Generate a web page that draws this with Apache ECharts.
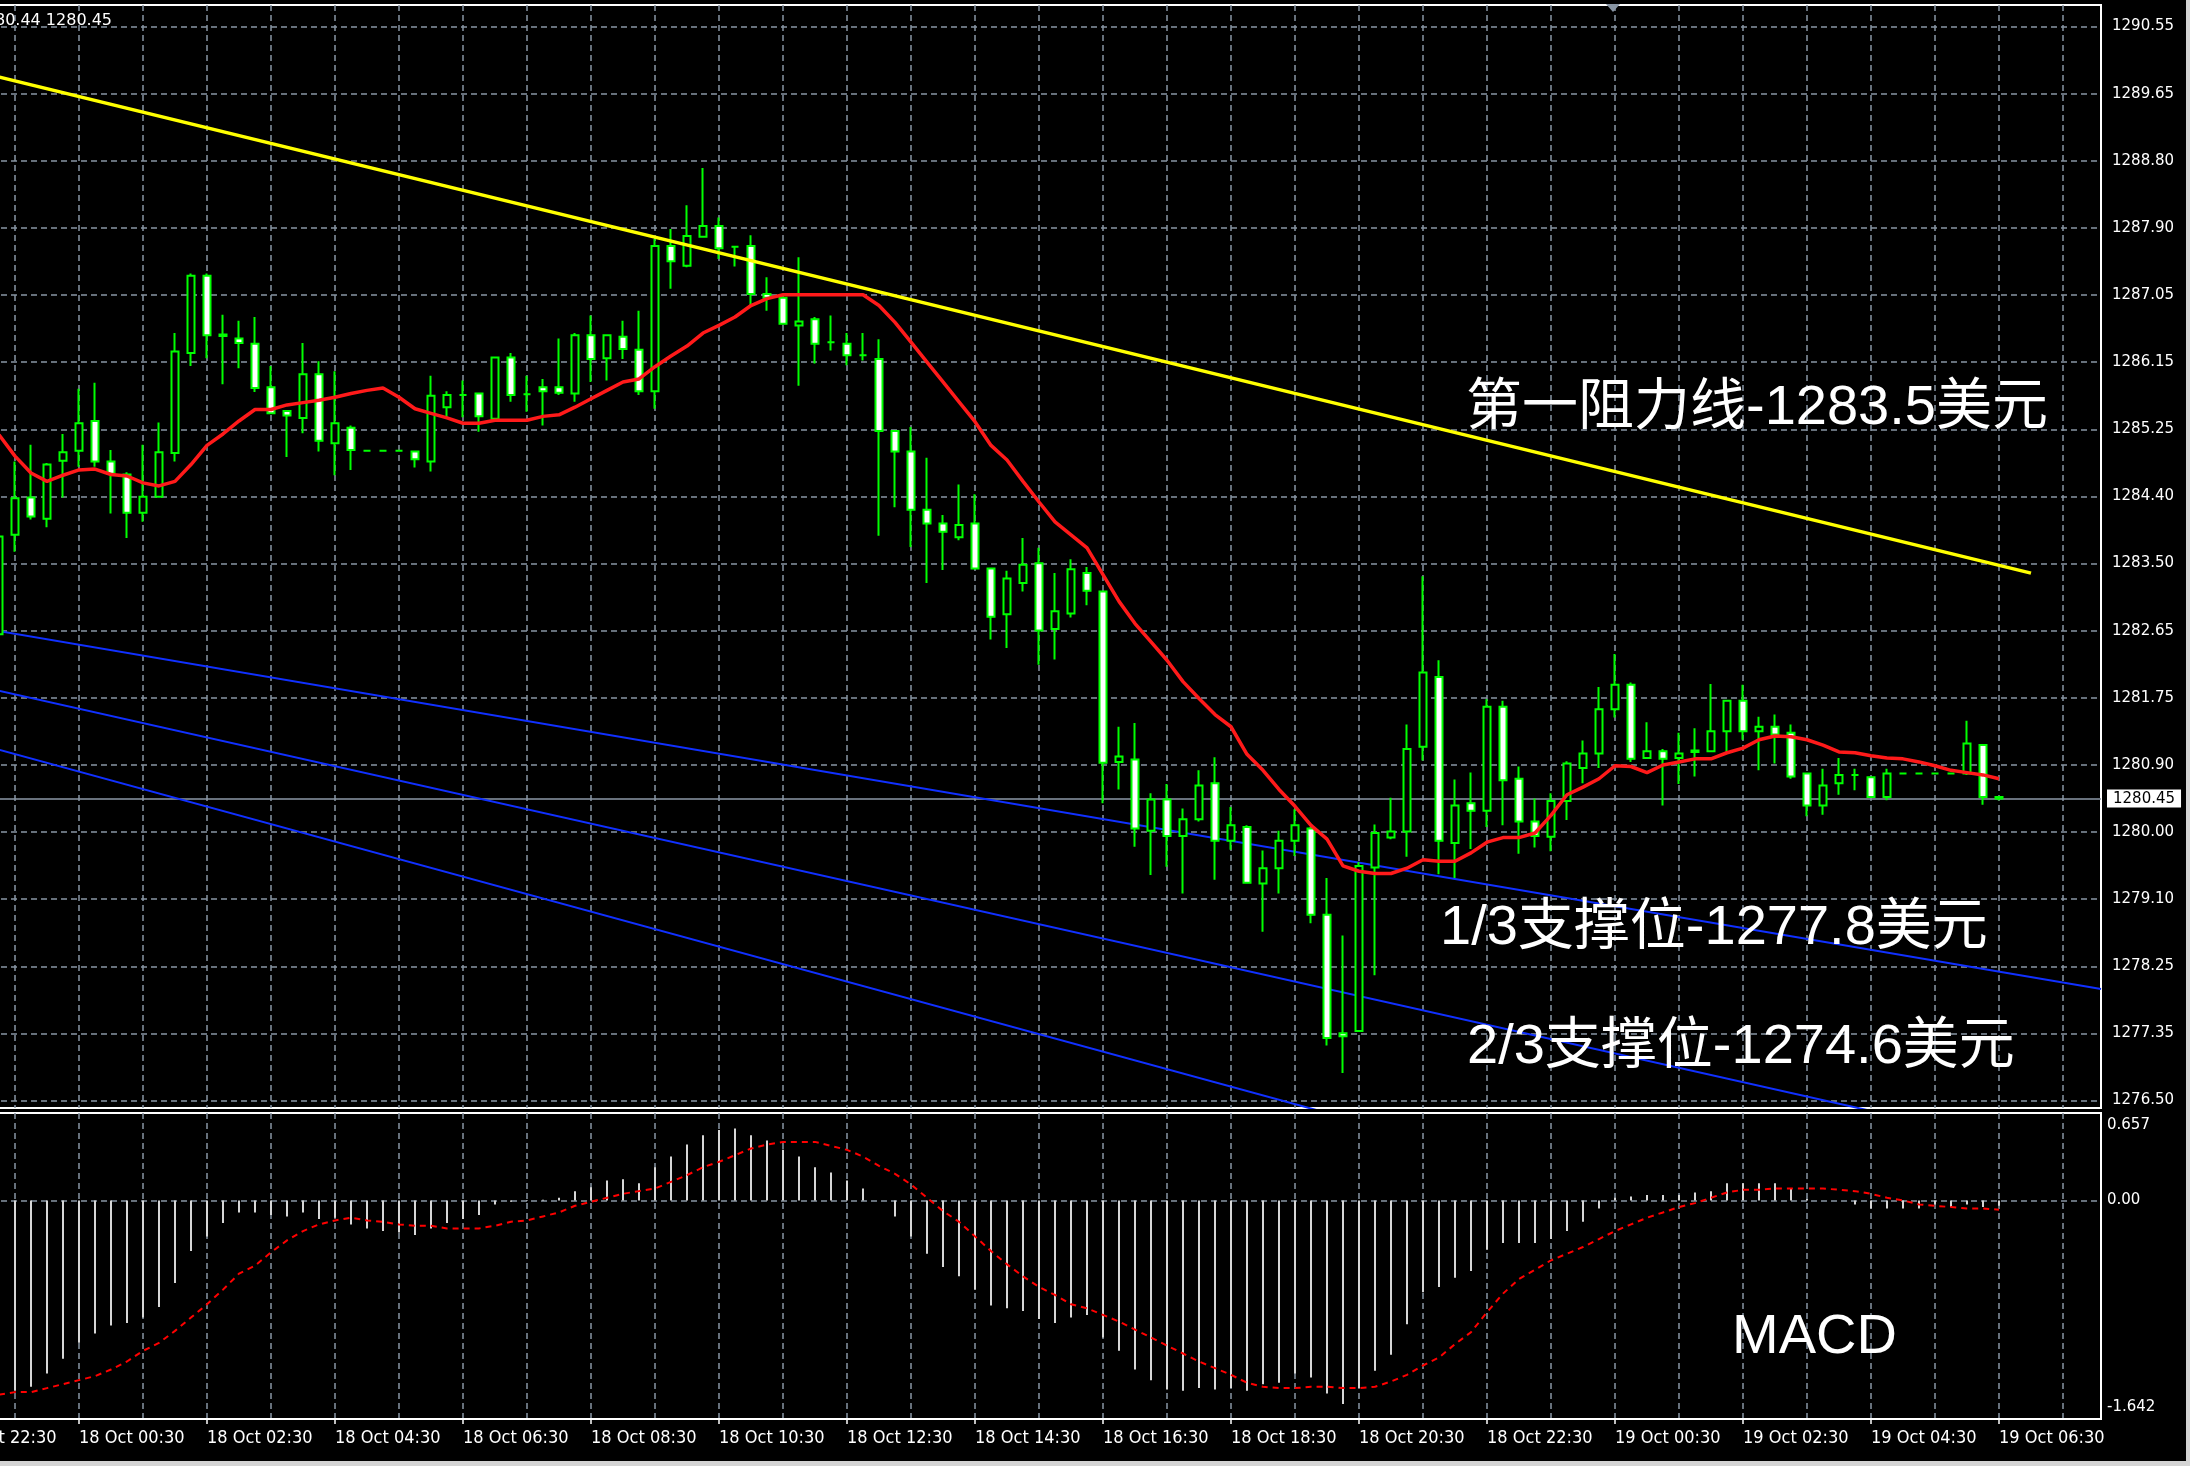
<!DOCTYPE html>
<html><head><meta charset="utf-8">
<script src="https://cdn.jsdelivr.net/npm/echarts@6/dist/echarts.min.js"></script>
<style>html,body{margin:0;padding:0;background:#000;overflow:hidden}#c{width:2190px;height:1466px}</style>
</head><body><div id="c"></div>
<script>
// ---------- tick labels ----------
const timeLabels = ['17 Oct 22:30','18 Oct 00:30','18 Oct 02:30','18 Oct 04:30','18 Oct 06:30','18 Oct 08:30','18 Oct 10:30','18 Oct 12:30','18 Oct 14:30','18 Oct 16:30','18 Oct 18:30','18 Oct 20:30','18 Oct 22:30','19 Oct 00:30','19 Oct 02:30','19 Oct 04:30','19 Oct 06:30'];
const priceLabels = ['1276.50','1277.35','1278.25','1279.10','1280.00','1280.90','1281.75','1282.65','1283.50','1284.40','1285.25','1286.15','1287.05','1287.90','1288.80','1289.65','1290.55'];
const macdAxisVals = [-1.642, 0, 0.657];
const macdAxisLabels = ['-1.642\n', '0.00', '\n0.657'];
const firstSlot = 3; // first candle = 17 Oct 23:15 (15-min slots from 17 Oct 22:30)

// ---------- candles (15 min) ----------
const opens = [
1282.60,1283.90,1284.39,1284.11,1284.87,1285.00,1285.39,1284.86,1284.69,1284.19,
1284.40,1284.97,1286.28,1287.29,1286.52,1286.47,1286.40,1285.83,1285.52,1285.43,
1286.00,1285.10,1285.30,1285.00,1285.00,1285.00,1284.99,1284.86,1285.57,1285.73,
1285.75,1285.42,1286.22,1285.74,1285.83,1285.83,1285.75,1286.51,1286.21,1286.49,
1286.32,1285.78,1287.68,1287.42,1287.80,1287.94,1287.67,1287.68,1287.05,1287.00,
1286.64,1286.72,1286.42,1286.40,1286.25,1286.20,1285.26,1284.99,1284.23,1284.05,
1283.87,1284.05,1283.46,1282.86,1283.27,1283.53,1282.67,1282.87,1283.40,1283.16,
1280.93,1280.96,1280.03,1280.44,1279.96,1280.18,1280.65,1279.90,1280.08,1279.34,
1279.54,1279.90,1280.06,1278.93,1277.38,1277.41,1279.55,1279.94,1280.02,1281.13,
1282.04,1279.87,1280.39,1280.29,1281.65,1280.71,1280.15,1279.95,1280.42,1280.85,
1281.04,1281.62,1281.94,1280.98,1281.07,1280.98,1281.06,1281.07,1281.33,1281.73,
1281.33,1281.39,1281.31,1280.78,1280.36,1280.65,1280.76,1280.73,1280.47,1280.78,
1280.78,1280.78,1280.78,1280.78,1281.15,1280.47];
const closes = [
1283.88,1284.38,1284.14,1284.82,1284.98,1285.36,1284.86,1284.70,1284.19,1284.40,
1284.98,1286.30,1287.29,1286.51,1286.50,1286.41,1285.82,1285.49,1285.46,1286.00,
1285.13,1285.36,1285.01,1285.00,1285.00,1285.00,1284.89,1285.72,1285.73,1285.73,
1285.45,1286.22,1285.73,1285.74,1285.78,1285.76,1286.51,1286.20,1286.51,1286.33,
1285.78,1287.68,1287.48,1287.81,1287.94,1287.65,1287.67,1287.05,1287.00,1286.66,
1286.69,1286.40,1286.42,1286.25,1286.25,1285.26,1284.99,1284.23,1284.05,1283.94,
1284.03,1283.46,1282.83,1283.33,1283.51,1282.65,1282.90,1283.45,1283.17,1280.92,
1281.00,1280.06,1280.44,1279.96,1280.18,1280.62,1279.90,1280.10,1279.35,1279.54,
1279.90,1280.10,1278.93,1277.32,1277.34,1279.57,1280.00,1280.02,1281.10,1282.10,
1279.90,1280.36,1280.29,1281.65,1280.69,1280.15,1279.96,1280.42,1280.91,1281.04,
1281.62,1281.94,1280.97,1281.07,1280.97,1281.04,1281.08,1281.33,1281.73,1281.33,
1281.39,1281.29,1280.74,1280.36,1280.62,1280.76,1280.76,1280.47,1280.78,1280.78,
1280.78,1280.78,1280.78,1281.17,1280.47,1280.45];
const lows = [
1282.30,1283.68,1284.10,1284.00,1284.39,1284.79,1284.79,1284.18,1283.86,1284.07,
1284.40,1284.86,1286.11,1286.21,1285.87,1286.08,1285.77,1285.48,1284.92,1285.23,
1284.99,1284.68,1284.75,1285.00,1285.00,1285.00,1284.78,1284.73,1285.44,1285.44,
1285.25,1285.40,1285.64,1285.51,1285.33,1285.73,1285.64,1285.90,1285.92,1286.20,
1285.73,1285.55,1287.12,1287.40,1287.80,1287.51,1287.41,1286.90,1286.83,1286.66,
1285.85,1286.14,1286.31,1286.12,1286.18,1283.89,1284.26,1283.74,1283.27,1283.44,
1283.83,1283.46,1282.53,1282.42,1283.16,1282.20,1282.27,1282.82,1282.98,1280.39,
1280.57,1279.82,1279.45,1279.56,1279.21,1280.15,1279.39,1279.78,1279.35,1278.71,
1279.21,1279.70,1278.82,1277.22,1276.86,1277.41,1278.14,1279.92,1279.69,1280.95,
1279.46,1279.41,1279.79,1280.08,1280.10,1279.73,1279.81,1279.76,1280.17,1280.65,
1280.85,1281.51,1280.93,1280.97,1280.36,1280.64,1280.74,1281.06,1281.06,1281.22,
1280.82,1280.91,1280.71,1280.22,1280.24,1280.50,1280.56,1280.46,1280.43,1280.78,
1280.78,1280.78,1280.78,1280.76,1280.37,1280.43];
const highs = [
1284.20,1284.86,1285.08,1284.84,1285.22,1285.81,1285.89,1285.01,1284.72,1285.08,
1285.37,1286.54,1287.32,1287.32,1286.78,1286.70,1286.75,1286.11,1285.53,1286.41,
1286.17,1286.04,1285.33,1285.00,1285.00,1285.00,1284.99,1285.98,1285.78,1285.92,
1285.75,1286.22,1286.28,1285.98,1285.94,1286.47,1286.54,1286.77,1286.51,1286.70,
1286.83,1287.77,1287.90,1288.21,1288.70,1288.05,1287.67,1287.82,1287.27,1287.05,
1287.53,1286.75,1286.77,1286.54,1286.54,1286.46,1285.26,1285.31,1284.91,1284.16,
1284.56,1284.43,1283.46,1283.43,1283.86,1283.73,1283.40,1283.58,1283.48,1283.16,
1281.39,1281.44,1280.52,1280.64,1280.32,1280.82,1280.99,1280.34,1280.10,1279.77,
1280.03,1280.31,1280.08,1279.41,1278.66,1279.62,1280.11,1280.46,1281.42,1283.36,
1282.26,1280.70,1280.79,1281.75,1281.73,1280.87,1280.45,1280.52,1280.94,1281.21,
1281.91,1282.34,1281.97,1281.45,1281.10,1281.31,1281.37,1281.95,1281.73,1281.94,
1281.52,1281.55,1281.42,1280.78,1280.84,1280.98,1280.84,1280.73,1280.84,1280.78,
1280.78,1280.78,1280.78,1281.47,1281.15,1280.48];

// ---------- moving average (red) ----------
const maValues = [
1285.21,1284.93,1284.71,1284.60,1284.68,1284.75,1284.76,1284.69,1284.67,1284.58,
1284.54,1284.60,1284.82,1285.07,1285.22,1285.39,1285.54,1285.54,1285.60,1285.63,
1285.66,1285.70,1285.75,1285.79,1285.82,1285.70,1285.55,1285.49,1285.43,1285.36,
1285.36,1285.40,1285.40,1285.40,1285.45,1285.47,1285.57,1285.68,1285.79,1285.90,
1285.94,1286.10,1286.24,1286.37,1286.54,1286.64,1286.75,1286.90,1286.99,1287.04,
1287.04,1287.04,1287.04,1287.04,1287.04,1286.90,1286.68,1286.42,1286.16,1285.90,
1285.64,1285.38,1285.07,1284.88,1284.60,1284.33,1284.07,1283.90,1283.73,1283.38,
1283.03,1282.74,1282.50,1282.26,1281.98,1281.76,1281.55,1281.39,1281.03,1280.82,
1280.57,1280.35,1280.10,1279.92,1279.57,1279.50,1279.47,1279.47,1279.54,1279.65,
1279.63,1279.63,1279.74,1279.88,1279.94,1279.94,1280.00,1280.23,1280.50,1280.60,
1280.71,1280.88,1280.87,1280.79,1280.89,1280.93,1280.97,1280.97,1281.05,1281.11,
1281.22,1281.27,1281.26,1281.22,1281.15,1281.06,1281.05,1281.01,1280.98,1280.97,
1280.93,1280.88,1280.82,1280.79,1280.76,1280.71];

// ---------- trend lines ----------
const resistanceSlots = [3, 130];
const resistancePrices = [1289.89, 1283.40];
const fanSlots = [3, 134.375];
const fanLine1 = [1282.64, 1277.96];
const fanLine2 = [1281.86, 1275.69];
const fanLine3 = [1281.09, 1273.57];
const currentPrice = 1280.45;

// ---------- MACD ----------
const macdHist = [
-1.48,-1.43,-1.40,-1.30,-1.19,-1.07,-1.00,-0.94,-0.92,-0.88,
-0.80,-0.62,-0.38,-0.27,-0.17,-0.09,-0.09,-0.11,-0.12,-0.09,
-0.14,-0.13,-0.18,-0.21,-0.23,-0.24,-0.26,-0.21,-0.17,-0.14,
-0.11,-0.03,-0.01,-0.005,0.005,0.02,0.07,0.10,0.15,0.16,
0.13,0.25,0.33,0.42,0.49,0.53,0.54,0.49,0.45,0.38,
0.33,0.25,0.21,0.15,0.09,0.00,-0.12,-0.27,-0.40,-0.50,
-0.57,-0.67,-0.79,-0.81,-0.83,-0.89,-0.92,-0.88,-0.86,-1.03,
-1.13,-1.27,-1.35,-1.42,-1.43,-1.41,-1.42,-1.41,-1.43,-1.38,
-1.37,-1.30,-1.33,-1.45,-1.53,-1.41,-1.28,-1.16,-0.93,-0.69,
-0.65,-0.58,-0.53,-0.37,-0.32,-0.32,-0.32,-0.29,-0.23,-0.16,
-0.06,0.02,0.03,0.04,0.04,0.04,0.06,0.07,0.13,0.13,
0.13,0.13,0.09,0.01,0.00,0.00,-0.03,-0.06,-0.06,-0.06,
-0.06,-0.03,-0.05,-0.03,-0.05,-0.04];
const macdSignal = [
-1.46,-1.44,-1.44,-1.41,-1.38,-1.35,-1.32,-1.27,-1.21,-1.13,
-1.07,-0.98,-0.88,-0.78,-0.67,-0.55,-0.49,-0.39,-0.30,-0.23,
-0.18,-0.15,-0.13,-0.15,-0.16,-0.18,-0.19,-0.19,-0.21,-0.21,
-0.21,-0.19,-0.16,-0.15,-0.12,-0.09,-0.04,-0.01,0.02,0.05,
0.07,0.09,0.14,0.19,0.25,0.29,0.34,0.39,0.42,0.44,
0.44,0.44,0.41,0.38,0.33,0.26,0.20,0.12,0.02,-0.08,
-0.16,-0.27,-0.38,-0.48,-0.57,-0.65,-0.71,-0.78,-0.81,-0.86,
-0.91,-0.97,-1.03,-1.09,-1.15,-1.21,-1.26,-1.31,-1.37,-1.40,
-1.41,-1.41,-1.40,-1.40,-1.41,-1.41,-1.40,-1.36,-1.31,-1.24,
-1.18,-1.08,-0.99,-0.84,-0.70,-0.59,-0.52,-0.45,-0.40,-0.35,
-0.29,-0.23,-0.18,-0.13,-0.09,-0.05,-0.02,0.02,0.06,0.08,
0.08,0.09,0.09,0.09,0.09,0.08,0.07,0.05,0.02,0.00,
-0.03,-0.04,-0.05,-0.06,-0.06,-0.07];

// ---------- build ----------
const gridCol = '#8895a4';
const lblFont = "'DejaVu Sans', sans-serif";
const xLblFont = "'DejaVu Sans Condensed', 'DejaVu Sans', sans-serif";
const annFont = "'Liberation Sans', 'Noto Sans CJK SC', sans-serif";
const pStep = (parseFloat(priceLabels[16]) - parseFloat(priceLabels[0])) / 16;
const pBase = parseFloat(priceLabels[0]);
const priceTicks = priceLabels.map((_, k) => pBase + k * pStep);
const hourTicks = []; for (let k = 0; k <= 132; k += 4) hourTicks.push(k);
const labelTicks = timeLabels.map((_, j) => j * 8);
const slotMax = 134.375;

const candleData = opens.map((o, i) => [firstSlot + i, o, closes[i], lows[i], highs[i]]);
const maData = maValues.map((v, i) => [firstSlot + i, v]);
const histData = macdHist.map((v, i) => [firstSlot + i, v]);
const sigData = macdSignal.map((v, i) => [firstSlot + i, v]);
const seg = (xs, ys) => xs.map((x, j) => [x, ys[j]]);

const splitStyle = {show: true, lineStyle: {color: gridCol, width: 1.5, type: [6, 4]}};
const hiddenX = (gi) => ({type: 'value', gridIndex: gi, min: 0, max: slotMax,
  axisLine: {show: false}, axisTick: {show: false, customValues: hourTicks},
  axisLabel: {show: false}, splitLine: splitStyle});

const option = {
  backgroundColor: '#000000',
  animation: false,
  grid: [
    {left: -49, top: 5, width: 2150, height: 1103, outerBoundsMode: 'none', containLabel: false, show: true, borderColor: '#ffffff', borderWidth: 2, backgroundColor: 'transparent'},
    {left: -49, top: 1113, width: 2150, height: 306, outerBoundsMode: 'none', containLabel: false, show: true, borderColor: '#ffffff', borderWidth: 2, backgroundColor: 'transparent'}
  ],
  xAxis: [
    hiddenX(0),
    hiddenX(1),
    {type: 'value', gridIndex: 1, position: 'bottom', min: 0, max: slotMax,
      axisLine: {show: true, lineStyle: {color: '#ffffff', width: 2}},
      axisTick: {show: true, customValues: labelTicks, length: 5, lineStyle: {color: '#ffffff', width: 1.5}},
      axisLabel: {show: true, customValues: labelTicks, color: '#ffffff', fontSize: 18, fontFamily: xLblFont,
        align: 'left', margin: 10, formatter: v => timeLabels[Math.round(v / 8)]},
      splitLine: {show: false}}
  ],
  yAxis: [
    {type: 'value', gridIndex: 0, position: 'right', min: 1276.403, max: 1290.831,
      axisLine: {show: true, lineStyle: {color: '#ffffff', width: 2}},
      axisTick: {show: true, customValues: priceTicks, length: 4, lineStyle: {color: '#ffffff'}},
      axisLabel: {show: true, customValues: priceTicks, color: '#ffffff', fontSize: 15, fontFamily: lblFont, margin: 11,
        formatter: v => priceLabels[Math.round((v - pBase) / pStep)]},
      splitLine: splitStyle},
    {type: 'value', gridIndex: 1, position: 'right', min: -1.642, max: 0.657,
      axisLine: {show: true, lineStyle: {color: '#ffffff', width: 2}},
      axisTick: {show: true, customValues: [0], length: 4, lineStyle: {color: '#ffffff'}},
      axisLabel: {show: true, customValues: macdAxisVals, color: '#ffffff', fontSize: 15, fontFamily: lblFont, margin: 6, lineHeight: 24,
        formatter: v => macdAxisLabels[macdAxisVals.findIndex(a => Math.abs(a - v) < 1e-6)]},
      splitLine: splitStyle}
  ],
  series: [
    {type: 'line', xAxisIndex: 0, yAxisIndex: 0, data: seg(fanSlots, fanLine1), symbol: 'none', z: 2, lineStyle: {color: '#1030ff', width: 2}},
    {type: 'line', xAxisIndex: 0, yAxisIndex: 0, data: seg(fanSlots, fanLine2), symbol: 'none', z: 2, lineStyle: {color: '#1030ff', width: 2}},
    {type: 'line', xAxisIndex: 0, yAxisIndex: 0, data: seg(fanSlots, fanLine3), symbol: 'none', z: 2, lineStyle: {color: '#1030ff', width: 2}},
    {type: 'candlestick', xAxisIndex: 0, yAxisIndex: 0, data: candleData, encode: {x: 0, y: [1, 2, 3, 4]},
      barWidth: 7, z: 3,
      itemStyle: {color: '#000000', color0: '#ffffff', borderColor: '#00ff00', borderColor0: '#00ff00', borderColorDoji: '#00ff00', borderWidth: 2},
      markLine: {silent: true, symbol: 'none', z: 1,
        lineStyle: {color: '#8c99a7', width: 1.5, type: 'solid'},
        label: {show: true, position: 'end', distance: 6, formatter: () => currentPrice.toFixed(2),
          backgroundColor: '#ffffff', color: '#000000', fontSize: 15, fontFamily: lblFont, padding: [2, 6, 1, 6]},
        data: [{yAxis: currentPrice}]}},
    {type: 'line', xAxisIndex: 0, yAxisIndex: 0, data: maData, symbol: 'none', z: 4, lineStyle: {color: '#ff1a1a', width: 3.5}},
    {type: 'line', xAxisIndex: 0, yAxisIndex: 0, data: seg(resistanceSlots, resistancePrices), symbol: 'none', z: 5, lineStyle: {color: '#ffff00', width: 3.5}},
    {type: 'bar', xAxisIndex: 1, yAxisIndex: 1, data: histData, barWidth: 2, z: 3, itemStyle: {color: '#d6d6d6'}},
    {type: 'line', xAxisIndex: 1, yAxisIndex: 1, data: sigData, symbol: 'none', z: 4, lineStyle: {color: '#ff0000', width: 2, type: [6, 5]}}
  ],
  graphic: [
    {type: 'text', x: 112, y: 21, z: 20, style: {text: '1280.44 1280.45', fill: '#ffffff', font: "16px 'DejaVu Sans'", align: 'right', verticalAlign: 'middle'}},
    {type: 'text', x: 1466, y: 409, z: 20, style: {text: '第一阻力线-1283.5美元', fill: '#ffffff', fontSize: 56, fontFamily: annFont, align: 'left', verticalAlign: 'middle'}},
    {type: 'text', x: 1440, y: 929, z: 20, style: {text: '1/3支撑位-1277.8美元', fill: '#ffffff', fontSize: 56, fontFamily: annFont, align: 'left', verticalAlign: 'middle'}},
    {type: 'text', x: 1467, y: 1048, z: 20, style: {text: '2/3支撑位-1274.6美元', fill: '#ffffff', fontSize: 56, fontFamily: annFont, align: 'left', verticalAlign: 'middle'}},
    {type: 'text', x: 1732, y: 1338, z: 20, style: {text: 'MACD', fill: '#ffffff', fontSize: 56, fontFamily: annFont, align: 'left', verticalAlign: 'middle'}},
    {type: 'polygon', z: 20, shape: {points: [[1606, 4], [1620, 4], [1613, 12]]}, style: {fill: '#8895a4'}},
    {type: 'rect', z: 20, shape: {x: 2186, y: 0, width: 4, height: 1466}, style: {fill: '#d4d4d4'}},
    {type: 'rect', z: 20, shape: {x: 0, y: 1461, width: 2190, height: 5}, style: {fill: '#d4d4d4'}}
  ]
};
const chart = echarts.init(document.getElementById('c'), null, {renderer: 'canvas', width: 2190, height: 1466});
chart.setOption(option);
</script></body></html>
